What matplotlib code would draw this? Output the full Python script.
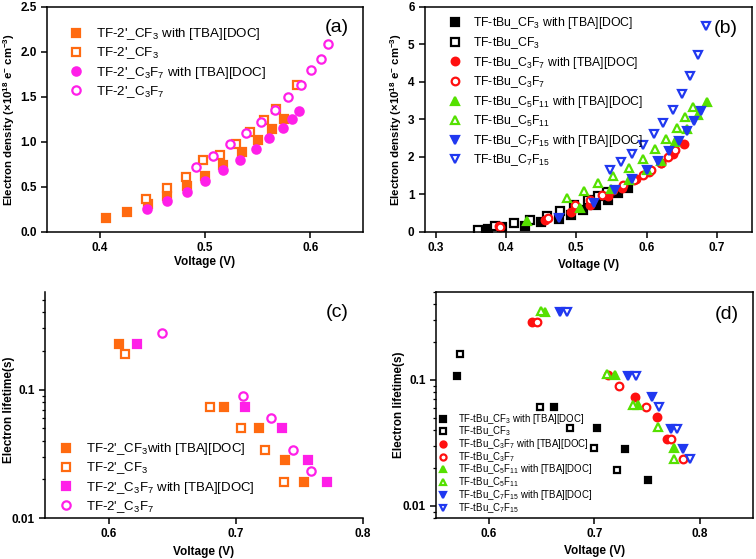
import matplotlib
matplotlib.use('Agg')
from matplotlib import pyplot as plt
from matplotlib.ticker import FixedLocator, LogLocator, NullFormatter, FixedFormatter

plt.rcParams['font.family'] = ['Liberation Sans', 'DejaVu Sans']
plt.rcParams['mathtext.fontset'] = 'custom'
plt.rcParams['mathtext.rm'] = 'Liberation Sans'
plt.rcParams['mathtext.default'] = 'regular'

ORANGE = '#FF6A10'
MAGENTA = '#FF1FE8'
RED = '#FF1010'
GREEN = '#55E000'
BLUE = '#2038F0'

# (a) electron density, TF-2' series
a_cf3_tba_v = [0.406, 0.426, 0.446, 0.464, 0.483, 0.500, 0.517, 0.535, 0.550, 0.564, 0.575]
a_cf3_tba_n = [0.156, 0.222, 0.307, 0.396, 0.507, 0.626, 0.748, 0.889, 1.022, 1.148, 1.259]
a_cf3_v = [0.444, 0.464, 0.482, 0.498, 0.514, 0.529, 0.543, 0.556, 0.567, 0.587]
a_cf3_n = [0.370, 0.485, 0.607, 0.796, 0.859, 0.981, 1.111, 1.244, 1.367, 1.637]
a_c3f7_tba_v = [0.445, 0.464, 0.483, 0.500, 0.517, 0.533, 0.548, 0.561, 0.574, 0.583, 0.589]
a_c3f7_tba_n = [0.259, 0.348, 0.448, 0.563, 0.685, 0.800, 0.919, 1.048, 1.152, 1.259, 1.341]
a_c3f7_v = [0.491, 0.508, 0.524, 0.539, 0.553, 0.566, 0.579, 0.591, 0.601, 0.610, 0.617]
a_c3f7_n = [0.719, 0.848, 0.978, 1.104, 1.219, 1.356, 1.500, 1.637, 1.804, 1.926, 2.093]

# (b) electron density, TF-tBu series
b_cf3_tba_v = [0.375, 0.394, 0.427, 0.450, 0.475, 0.493, 0.510, 0.528, 0.545, 0.559, 0.573]
b_cf3_tba_n = [0.08, 0.12, 0.17, 0.26, 0.35, 0.45, 0.58, 0.73, 0.86, 1.04, 1.17]
b_cf3_v = [0.36, 0.384, 0.412, 0.435, 0.458, 0.477, 0.497, 0.517, 0.531, 0.544]
b_cf3_n = [0.06, 0.15, 0.23, 0.32, 0.42, 0.55, 0.71, 0.84, 0.95, 1.06]
b_c3f7_tba_v = [0.390, 0.456, 0.493, 0.520, 0.545, 0.565, 0.585, 0.603, 0.620, 0.637, 0.653]
b_c3f7_tba_n = [0.15, 0.33, 0.53, 0.73, 0.95, 1.18, 1.40, 1.60, 1.85, 2.08, 2.35]
b_c3f7_v = [0.392, 0.460, 0.499, 0.519, 0.536, 0.552, 0.567, 0.582, 0.595, 0.607, 0.620, 0.631, 0.640]
b_c3f7_n = [0.14, 0.36, 0.71, 0.86, 0.98, 1.12, 1.24, 1.39, 1.53, 1.66, 1.85, 2.00, 2.18]
b_c5f11_tba_v = [0.430, 0.505, 0.550, 0.575, 0.600, 0.620, 0.640, 0.657, 0.673, 0.686]
b_c5f11_tba_n = [0.28, 0.65, 1.15, 1.38, 1.65, 1.90, 2.40, 2.75, 3.13, 3.47]
b_c5f11_v = [0.487, 0.511, 0.531, 0.553, 0.575, 0.595, 0.612, 0.628, 0.643, 0.655, 0.666]
b_c5f11_n = [0.91, 1.10, 1.31, 1.50, 1.71, 1.95, 2.20, 2.48, 2.77, 3.06, 3.33]
b_c7f15_tba_v = [0.475, 0.525, 0.555, 0.580, 0.600, 0.617, 0.632, 0.646, 0.658, 0.668, 0.678]
b_c7f15_tba_n = [0.38, 0.78, 1.12, 1.40, 1.66, 1.88, 2.15, 2.42, 2.70, 2.95, 3.22]
b_c7f15_v = [0.548, 0.563, 0.579, 0.595, 0.610, 0.624, 0.638, 0.650, 0.662, 0.673, 0.684]
b_c7f15_n = [1.66, 1.86, 2.08, 2.33, 2.61, 2.91, 3.25, 3.68, 4.17, 4.73, 5.50]

# (c) electron lifetime, TF-2' series
c_cf3_tba_v = [0.608, 0.691, 0.718, 0.739, 0.754]
c_cf3_tba_t = [0.228, 0.0733, 0.050, 0.0281, 0.0192]
c_cf3_v = [0.613, 0.680, 0.704, 0.723, 0.738]
c_cf3_t = [0.190, 0.0733, 0.050, 0.034, 0.0192]
c_c3f7_tba_v = [0.622, 0.707, 0.736, 0.757, 0.772]
c_c3f7_tba_t = [0.228, 0.0733, 0.050, 0.0281, 0.0192]
c_c3f7_v = [0.642, 0.706, 0.728, 0.745, 0.759]
c_c3f7_t = [0.278, 0.0888, 0.060, 0.034, 0.0232]

# (d) electron lifetime, TF-tBu series
d_cf3_tba_v = [0.570, 0.662, 0.702, 0.729, 0.751]
d_cf3_tba_t = [0.108, 0.0613, 0.0418, 0.0283, 0.0159]
d_cf3_v = [0.573, 0.648, 0.677, 0.700, 0.721]
d_cf3_t = [0.160, 0.0613, 0.0418, 0.0286, 0.0192]
d_c3f7_tba_v = [0.641, 0.713, 0.738, 0.759, 0.769]
d_c3f7_tba_t = [0.288, 0.109, 0.0736, 0.0505, 0.034]
d_c3f7_v = [0.646, 0.723, 0.749, 0.772, 0.784]
d_c3f7_t = [0.288, 0.090, 0.0613, 0.034, 0.0233]
d_c5f11_tba_v = [0.653, 0.719, 0.741, 0.775]
d_c5f11_tba_t = [0.345, 0.109, 0.0625, 0.0286]
d_c5f11_v = [0.649, 0.712, 0.736, 0.760, 0.775]
d_c5f11_t = [0.349, 0.1116, 0.0625, 0.0421, 0.0235]
d_c7f15_tba_v = [0.667, 0.732, 0.754, 0.772, 0.784]
d_c7f15_tba_t = [0.342, 0.108, 0.0728, 0.0407, 0.0281]
d_c7f15_v = [0.674, 0.739, 0.761, 0.778, 0.790]
d_c7f15_t = [0.342, 0.107, 0.0606, 0.0407, 0.0233]


def pts(ax, x, y, marker, color, filled, label, ms=6):
    ax.plot(x, y, linestyle='none', marker=marker, ms=ms, mew=1.6,
            mec=color, mfc=color if filled else 'white', label=label)


def style(ax, box=True):
    for s in ['top', 'right']:
        ax.spines[s].set_visible(box)
    for s in ax.spines.values():
        s.set_linewidth(1.1)
    ax.tick_params(which='major', direction='out', length=4, width=1.1,
                   labelsize=8.5, top=False, right=False)
    ax.tick_params(which='minor', direction='out', length=2.5, width=0.9)
    for t in ax.get_xticklabels() + ax.get_yticklabels():
        t.set_fontweight('bold')


fig = plt.figure(figsize=(7.56, 5.59), dpi=100)

# ---- (a)
ax = fig.add_axes([0.0622, 0.585, 0.418, 0.4025])
pts(ax, a_cf3_tba_v, a_cf3_tba_n, 's', ORANGE, True, "TF-2'_CF$_3$ with [TBA][DOC]")
pts(ax, a_cf3_v, a_cf3_n, 's', ORANGE, False, "TF-2'_CF$_3$")
pts(ax, a_c3f7_tba_v, a_c3f7_tba_n, 'o', MAGENTA, True, "TF-2'_C$_3$F$_7$ with [TBA][DOC]")
pts(ax, a_c3f7_v, a_c3f7_n, 'o', MAGENTA, False, "TF-2'_C$_3$F$_7$")
ax.set_xlim(0.35, 0.65)
ax.set_ylim(0, 2.5)
ax.xaxis.set_major_locator(FixedLocator([0.4, 0.5, 0.6]))
ax.yaxis.set_major_locator(FixedLocator([0, 0.5, 1.0, 1.5, 2.0, 2.5]))
ax.set_xlabel('Voltage (V)', fontsize=8.5, fontweight='bold', labelpad=1)
ax.set_ylabel('Electron density (×10$^{18}$ e$^{-}$ cm$^{-3}$)', fontsize=8.2,
              fontweight='bold', labelpad=2)
ax.legend(loc='upper left', bbox_to_anchor=(0.025, 0.95), frameon=False,
          fontsize=9.6, handletextpad=0.5, labelspacing=0.25, borderaxespad=0.2)
ax.text(0.955, 0.91, '(a)', transform=ax.transAxes, ha='right', va='center', fontsize=14)
style(ax)

# ---- (b)
ax = fig.add_axes([0.5622, 0.585, 0.4325, 0.4025])
pts(ax, b_cf3_tba_v, b_cf3_tba_n, 's', 'black', True, 'TF-tBu_CF$_3$ with [TBA][DOC]', 5.5)
pts(ax, b_cf3_v, b_cf3_n, 's', 'black', False, 'TF-tBu_CF$_3$', 5.5)
pts(ax, b_c3f7_tba_v, b_c3f7_tba_n, 'o', RED, True, 'TF-tBu_C$_3$F$_7$ with [TBA][DOC]', 5.5)
pts(ax, b_c3f7_v, b_c3f7_n, 'o', RED, False, 'TF-tBu_C$_3$F$_7$', 5.5)
pts(ax, b_c5f11_tba_v, b_c5f11_tba_n, '^', GREEN, True, 'TF-tBu_C$_5$F$_{11}$ with [TBA][DOC]', 6)
pts(ax, b_c5f11_v, b_c5f11_n, '^', GREEN, False, 'TF-tBu_C$_5$F$_{11}$', 6)
pts(ax, b_c7f15_tba_v, b_c7f15_tba_n, 'v', BLUE, True, 'TF-tBu_C$_7$F$_{15}$ with [TBA][DOC]', 6)
pts(ax, b_c7f15_v, b_c7f15_n, 'v', BLUE, False, 'TF-tBu_C$_7$F$_{15}$', 6)
ax.set_xlim(0.285, 0.75)
ax.set_ylim(0, 6)
ax.xaxis.set_major_locator(FixedLocator([0.3, 0.4, 0.5, 0.6, 0.7]))
ax.yaxis.set_major_locator(FixedLocator([0, 1, 2, 3, 4, 5, 6]))
ax.set_xlabel('Voltage (V)', fontsize=8.5, fontweight='bold', labelpad=3)
ax.set_ylabel('Electron density (×10$^{18}$ e$^{-}$ cm$^{-3}$)', fontsize=8.2,
              fontweight='bold', labelpad=3)
ax.legend(loc='upper left', bbox_to_anchor=(0.032, 0.995), frameon=False,
          fontsize=8.8, handletextpad=0.5, labelspacing=0.3, borderaxespad=0.2)
ax.text(0.955, 0.905, '(b)', transform=ax.transAxes, ha='right', va='center', fontsize=14)
style(ax)

# ---- (c)
ax = fig.add_axes([0.0595, 0.0733, 0.4206, 0.405])
pts(ax, c_cf3_tba_v, c_cf3_tba_t, 's', ORANGE, True, "TF-2'_CF$_3$with [TBA][DOC]")
pts(ax, c_cf3_v, c_cf3_t, 's', ORANGE, False, "TF-2'_CF$_3$")
pts(ax, c_c3f7_tba_v, c_c3f7_tba_t, 's', MAGENTA, True, "TF-2'_C$_3$F$_7$ with [TBA][DOC]")
pts(ax, c_c3f7_v, c_c3f7_t, 'o', MAGENTA, False, "TF-2'_C$_3$F$_7$")
ax.set_yscale('log')
ax.set_xlim(0.55, 0.8)
ax.set_ylim(0.01, 0.58)
ax.xaxis.set_major_locator(FixedLocator([0.6, 0.7, 0.8]))
ax.yaxis.set_major_locator(FixedLocator([0.01, 0.1]))
ax.yaxis.set_major_formatter(FixedFormatter(['0.01', '0.1']))
ax.yaxis.set_minor_locator(LogLocator(base=10, subs=range(2, 10)))
ax.yaxis.set_minor_formatter(NullFormatter())
ax.set_xlabel('Voltage (V)', fontsize=8.5, fontweight='bold', labelpad=4)
ax.set_ylabel('Electron lifetime(s)', fontsize=8.5, fontweight='bold')
ax.yaxis.set_label_coords(-0.093, 0.48)
ax.legend(loc='lower left', bbox_to_anchor=(0.0, -0.02), frameon=False,
          fontsize=9.5, handletextpad=0.5, labelspacing=0.24, borderaxespad=0.2)
ax.text(0.955, 0.91, '(c)', transform=ax.transAxes, ha='right', va='center', fontsize=14)
style(ax, box=False)

# ---- (d)
ax = fig.add_axes([0.5767, 0.0733, 0.4193, 0.405])
pts(ax, d_cf3_tba_v, d_cf3_tba_t, 's', 'black', True, 'TF-tBu_CF$_3$ with [TBA][DOC]', 5)
pts(ax, d_cf3_v, d_cf3_t, 's', 'black', False, 'TF-tBu_CF$_3$', 5)
pts(ax, d_c3f7_tba_v, d_c3f7_tba_t, 'o', RED, True, 'TF-tBu_C$_3$F$_7$ with [TBA][DOC]', 5.5)
pts(ax, d_c3f7_v, d_c3f7_t, 'o', RED, False, 'TF-tBu_C$_3$F$_7$', 5.5)
pts(ax, d_c5f11_tba_v, d_c5f11_tba_t, '^', GREEN, True, 'TF-tBu_C$_5$F$_{11}$ with [TBA][DOC]', 6)
pts(ax, d_c5f11_v, d_c5f11_t, '^', GREEN, False, 'TF-tBu_C$_5$F$_{11}$', 6)
pts(ax, d_c7f15_tba_v, d_c7f15_tba_t, 'v', BLUE, True, 'TF-tBu_C$_7$F$_{15}$ with [TBA][DOC]', 6)
pts(ax, d_c7f15_v, d_c7f15_t, 'v', BLUE, False, 'TF-tBu_C$_7$F$_{15}$', 6)
ax.set_yscale('log')
ax.set_xlim(0.55, 0.85)
ax.set_ylim(0.008, 0.5)
ax.xaxis.set_major_locator(FixedLocator([0.6, 0.7, 0.8]))
ax.yaxis.set_major_locator(FixedLocator([0.01, 0.1]))
ax.yaxis.set_major_formatter(FixedFormatter(['0.01', '0.1']))
ax.yaxis.set_minor_locator(LogLocator(base=10, subs=range(2, 10)))
ax.yaxis.set_minor_formatter(NullFormatter())
ax.set_xlabel('Voltage (V)', fontsize=8.5, fontweight='bold', labelpad=3)
ax.set_ylabel('Electron lifetime(s)', fontsize=8.5, fontweight='bold', labelpad=-2)
ax.legend(loc='lower left', bbox_to_anchor=(-0.025, -0.01), frameon=False,
          fontsize=6.9, handletextpad=0.5, labelspacing=-0.12, borderaxespad=0.2,
          markerscale=0.8, handleheight=0.5)
ax.text(0.955, 0.9, '(d)', transform=ax.transAxes, ha='right', va='center', fontsize=14)
style(ax)

plt.savefig('out.png', dpi=100)
